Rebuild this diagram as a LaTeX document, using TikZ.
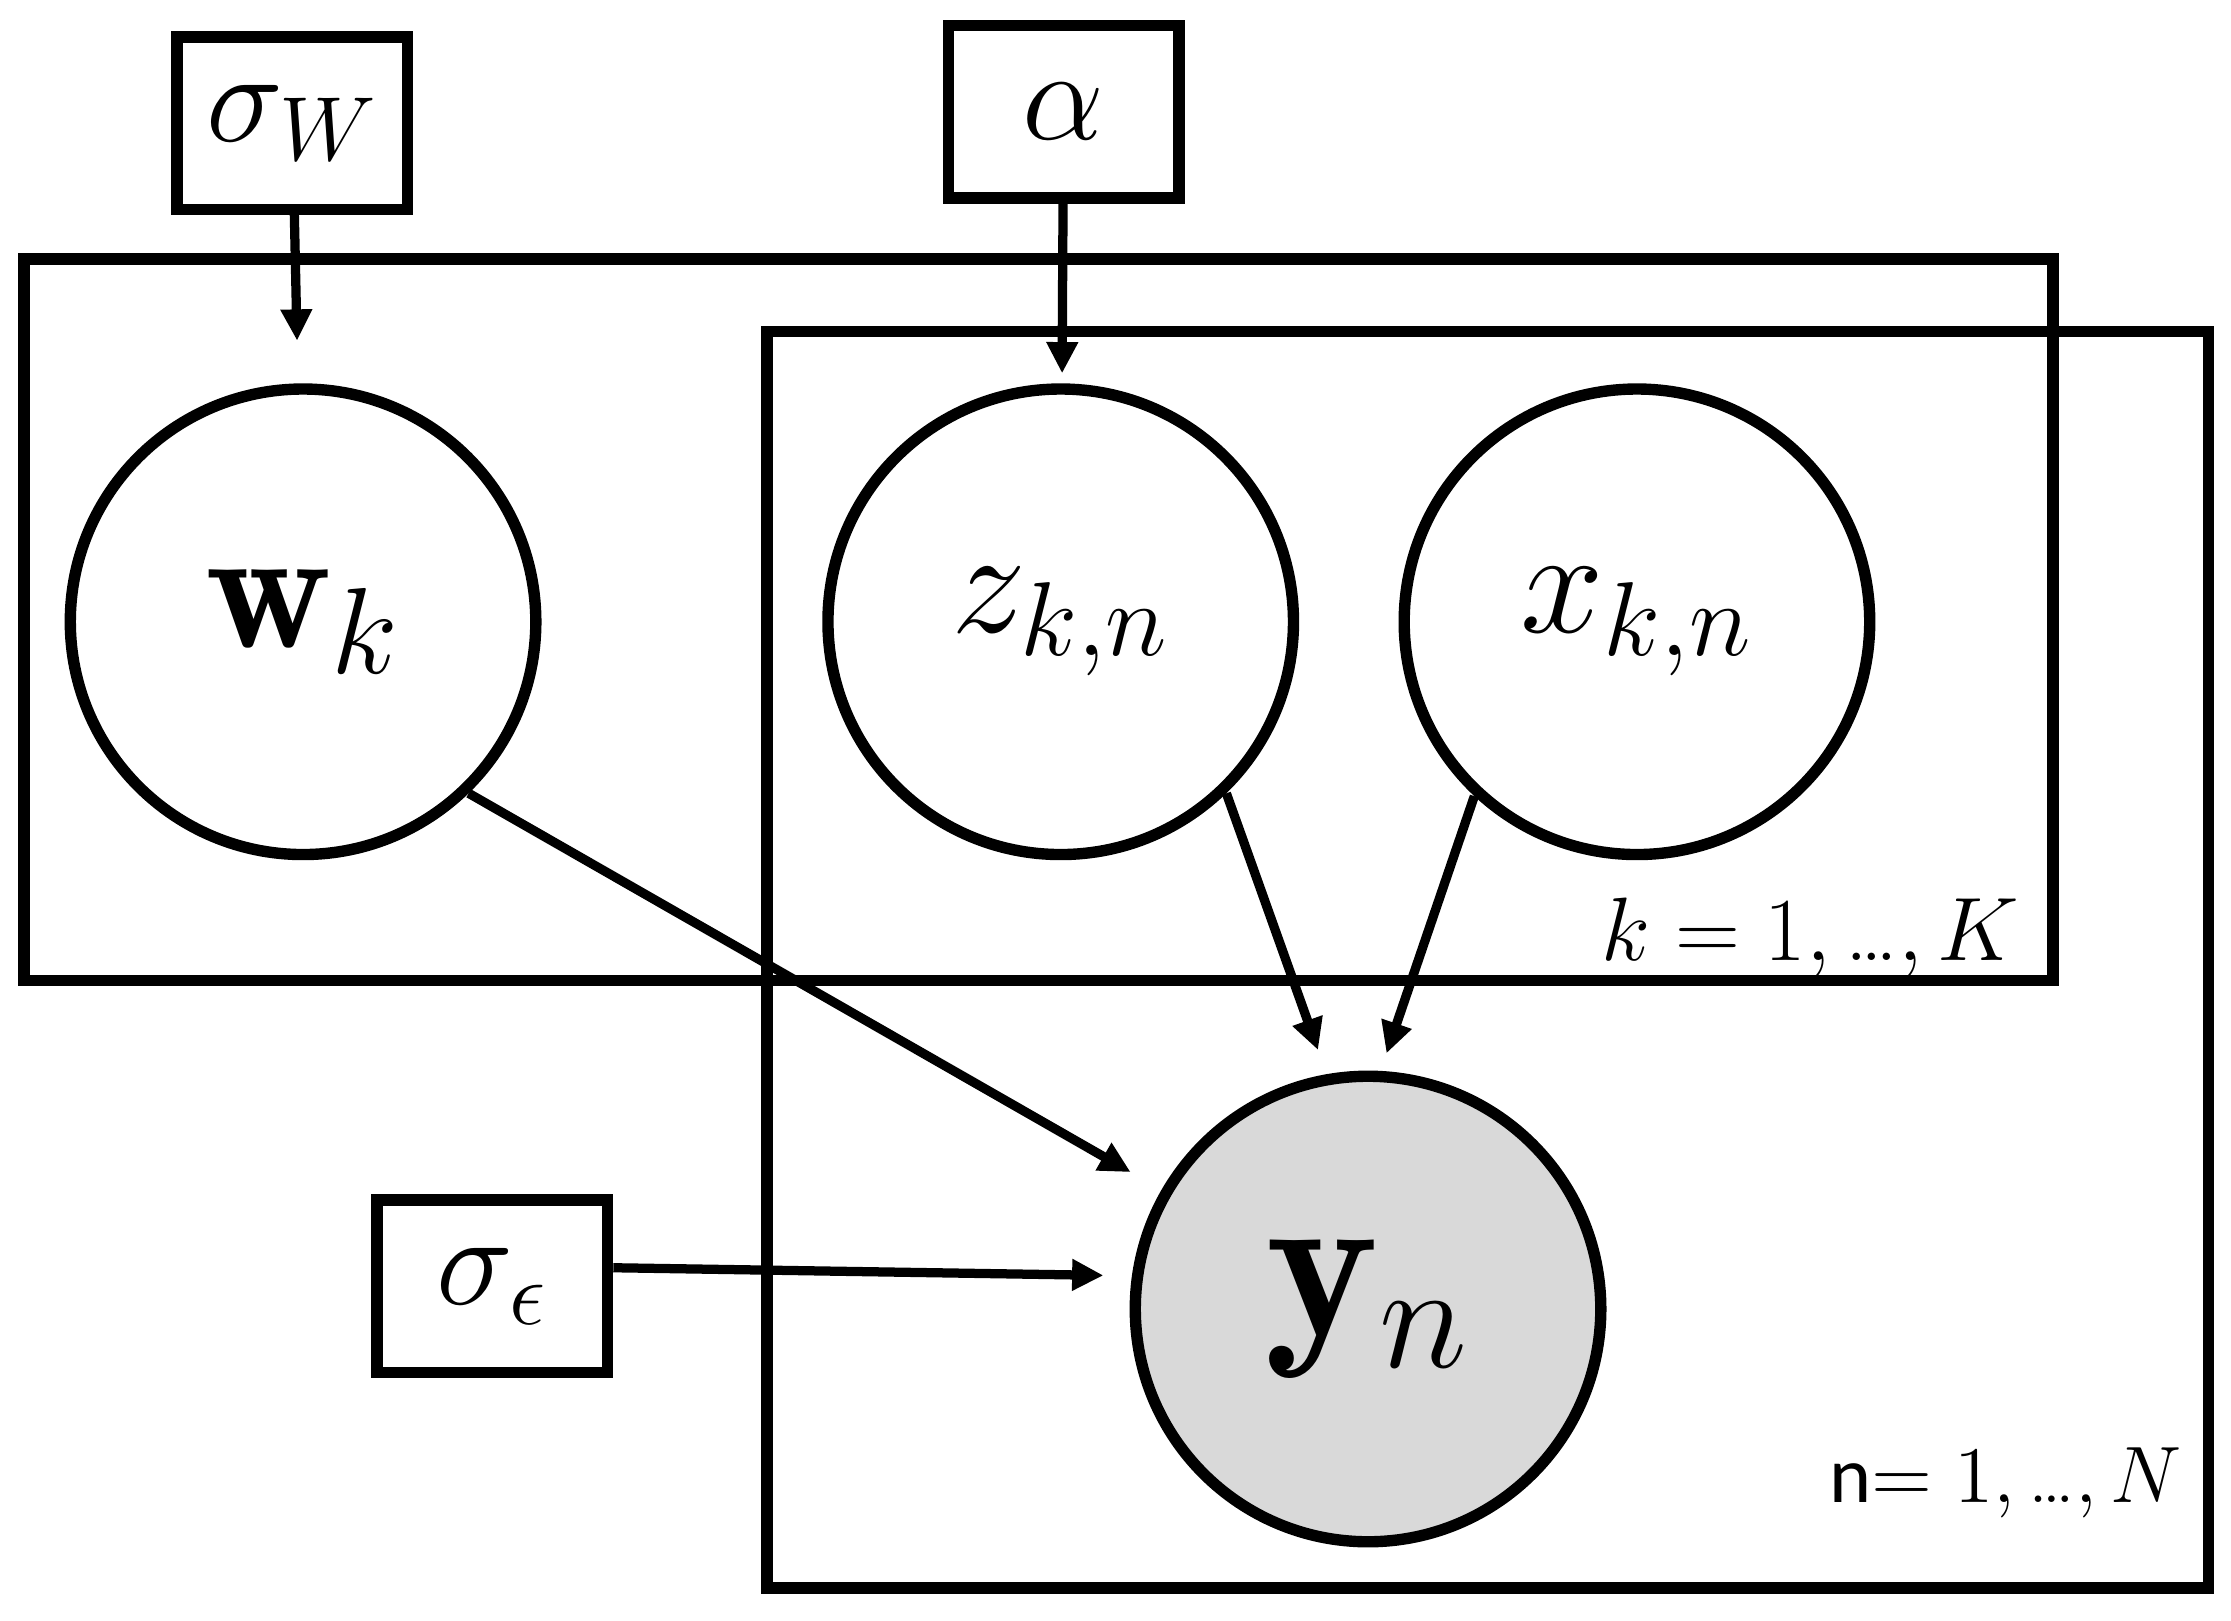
\documentclass[tikz,border=0pt]{standalone}
\usepackage{fix-cm}
\usepackage{fontspec}
\usepackage{xcolor}
\usetikzlibrary{arrows.meta}
\newfontfamily\carlito{Carlito}
\definecolor{obsGray}{HTML}{D9D9D9}

\tikzset{
  latent/.style={circle, draw, line width=0.08cm, minimum size=3.27cm, inner sep=0pt},
  observed/.style={latent, fill=obsGray},
  param/.style={rectangle, draw, line width=0.08cm, minimum width=1.62cm, minimum height=1.21cm,
    inner sep=0pt, font=\fontsize{26}{31}\selectfont},
  plate/.style={draw, line width=0.08cm},
  platelabel/.style={anchor=base east, inner sep=0pt},
  edge/.style={-{Triangle[length=0.22cm,width=0.21cm]}, line width=0.065cm},
}

\begin{document}
\begin{tikzpicture}[x=0.01cm, y=-0.01cm]
  \useasboundingbox (0,0) rectangle (1568,1139);
  % plates
  \draw[plate] (17,182) rectangle (1443,689);
  \draw[plate] (539,233) rectangle (1552,1116);
  \node[platelabel, font=\fontsize{18}{21}\selectfont] (klabel) at (1420,675) {$k = 1,\mbox{…},K$};
  \node[platelabel, font=\fontsize{16}{19}\selectfont] (nlabel) at (1534,1056) {{\carlito n}$= 1,\mbox{…},N$};
  % hyperparameters
  \node[param] (sW) at (205.5,86.5) {$\sigma_W$\hspace{0.1cm}};
  \node[param] (alpha) at (747.5,78.5) {$\alpha$\hspace{0.2cm}};
  \node[param] (se) at (346,904) {$\sigma_\epsilon$};
  % variables
  \node[latent, font=\fontsize{35}{42}\selectfont] (w) at (213,437) {$\mathbf{w}_k$\hspace{0.3cm}};
  \node[latent, font=\fontsize{30}{36}\selectfont] (z) at (745.5,437) {$z_{k,n}$\hspace{0.25cm}};
  \node[latent, font=\fontsize{30}{36}\selectfont] (x) at (1150.5,437) {$x_{k,n}$};
  \node[observed, font=\fontsize{43}{50}\selectfont] (y) at (961.5,920) {$\mathbf{y}_n$};
  % edges
  \draw[edge, shorten >=0.3cm] (sW) -- (w);
  \draw[edge, shorten >=0.07cm] (alpha) -- (z);
  \draw[edge, shorten >=0.25cm] (w.-46) -- (y.150);
  \draw[edge, shorten >=0.18cm] (z.-46) -- (y.100);
  \draw[edge, shorten >=0.13cm] (x.-133) -- (y.87);
  \draw[edge, shorten >=0.2cm] ([yshift=0.13cm]se.east) -- (y.172);
\end{tikzpicture}
\end{document}
